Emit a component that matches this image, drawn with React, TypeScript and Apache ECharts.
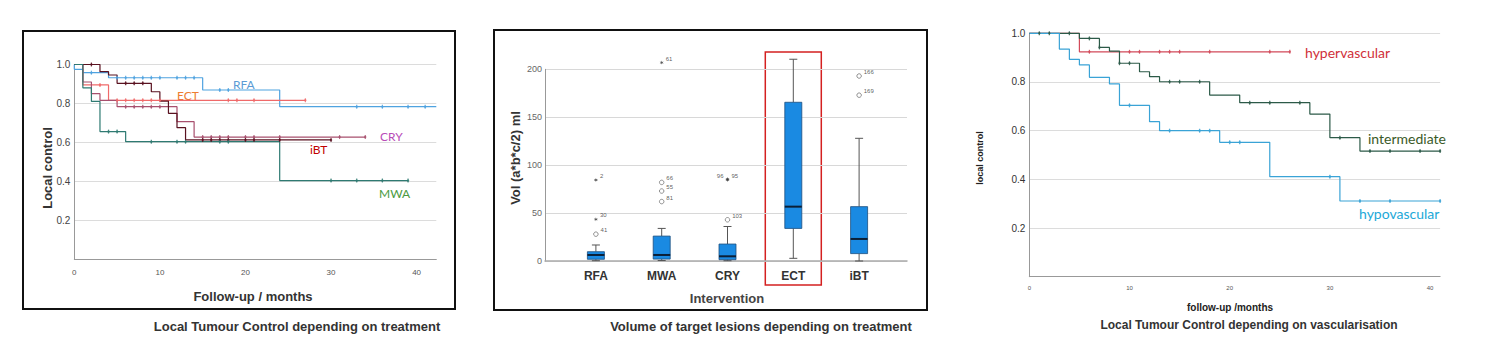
import React, { useEffect, useRef } from 'react';
import * as echarts from 'echarts';

// ---------- Panel 1: Local tumour control by treatment (Kaplan-Meier) ----------
const rfaSteps = [[0, 1], [0, 0.975], [1, 0.958], [4, 0.932], [15, 0.869], [24, 0.783], [42.3, 0.783]];
const rfaCensor = [2, 5, 6, 7, 8, 9, 10, 12, 13, 14, 17, 18, 33, 36, 39, 41];
const ectSteps = [[0, 1], [1, 0.895], [4, 0.816], [27, 0.816]];
const ectCensor = [3, 5, 6, 7, 8, 9, 10, 18, 19, 21, 27];
const crySteps = [[0, 1], [1, 0.91], [2, 0.85], [3, 0.816], [5, 0.783], [12, 0.706], [14, 0.627], [34, 0.627]];
const cryCensor = [6, 7, 8, 9, 10, 15, 16, 17, 18, 20, 21, 24, 31, 34];
const ibtSteps = [[0, 1], [3, 0.963], [4, 0.946], [5, 0.903], [9, 0.86], [10, 0.812], [11, 0.749], [12, 0.675], [13, 0.612], [30, 0.612]];
const ibtCensor = [2, 6, 7, 8, 15, 16, 17, 18, 20, 21, 24, 30];
const mwaSteps = [[0, 1], [1, 0.88], [2, 0.81], [3, 0.655], [6, 0.603], [24, 0.403], [39, 0.403]];
const mwaCensor = [4, 5, 9, 12, 13, 17, 18, 30, 33, 36, 39];

// ---------- Panel 2: Volume boxplots ----------
const boxCats = ['RFA', 'MWA', 'CRY', 'ECT', 'iBT'];
const boxLow = [0.3, 0.5, 0.3, 2.8, 0];
const boxQ1 = [1.8, 2, 1.4, 34, 7.7];
const boxMed = [6.3, 6.3, 4.9, 56.7, 23];
const boxQ3 = [9.7, 26, 17.7, 165.6, 56.7];
const boxHigh = [16.7, 34, 36, 210.5, 128];
const outCat = ['RFA', 'RFA', 'RFA', 'MWA', 'MWA', 'MWA', 'MWA', 'CRY', 'CRY', 'CRY', 'iBT', 'iBT'];
const outVal = [84.5, 43.5, 28, 207, 82, 73, 62, 85.5, 84.5, 43, 193, 173];
const outId = ['2', '30', '41', '61', '66', '55', '81', '96', '95', '103', '166', '169'];
const outKind = ['*', '*', 'o', '*', 'o', 'o', 'o', '*', '*', 'o', 'o', 'o'];

// ---------- Panel 3: Local tumour control by vascularisation ----------
const hyperSteps = [[0, 1], [5, 0.924], [26, 0.924]];
const hyperCensor = [6, 10, 11, 13, 14, 15, 18, 24, 26];
const interSteps = [[0, 1], [5, 0.979], [7, 0.942], [8, 0.927], [9, 0.877], [11, 0.842], [12, 0.822], [13, 0.801], [18, 0.746], [21, 0.715], [28, 0.668], [30, 0.571], [33, 0.516], [41, 0.516]];
const interCensor = [1, 2, 4, 6, 7, 9, 10, 14, 15, 17, 22, 24, 27, 31, 34, 36, 39, 41];
const hypoSteps = [[0, 1], [3, 0.935], [4, 0.893], [5, 0.87], [6, 0.819], [8, 0.792], [9, 0.704], [12, 0.637], [13, 0.6], [19, 0.552], [24, 0.411], [31, 0.311], [41, 0.311]];
const hypoCensor = [10, 14, 17, 18, 20, 21, 30, 33, 36, 41];

const SANS = '"Liberation Sans", Arial, sans-serif';
const LATO = 'Lato, "Open Sans", sans-serif';
const STAR = 'path://M0,-5L1,-1.7L4.3,-2.5L2,0L4.3,2.5L1,1.7L0,5L-1,1.7L-4.3,2.5L-2,0L-4.3,-2.5L-1,-1.7Z';

function valueAt(steps: number[][], t: number) {
  let v = steps[0][1];
  for (const s of steps) if (s[0] <= t) v = s[1];
  return v;
}

function km(name: string, steps: number[][], censor: number[], color: string, xi: number, w = 1.2) {
  return [
    {
      name, type: 'line', xAxisIndex: xi, yAxisIndex: xi, step: 'end', data: steps,
      symbol: 'none', clip: false, lineStyle: { color, width: w }, z: 3,
    },
    {
      name: name + '-c', type: 'scatter', xAxisIndex: xi, yAxisIndex: xi, clip: false,
      data: censor.map((t) => [t, valueAt(steps, t)]),
      symbol: 'rect', symbolSize: [1.2, 4], itemStyle: { color }, z: 4,
    },
    {
      name: name + '-d', type: 'scatter', xAxisIndex: xi, yAxisIndex: xi, clip: false,
      data: censor.map((t) => [t, valueAt(steps, t)]),
      symbol: 'circle', symbolSize: 2.4, itemStyle: { color }, z: 4,
    },
  ];
}

export default function App() {
  const ref = useRef<HTMLDivElement>(null);
  useEffect(() => {
    if (!ref.current) return;
    const chart = echarts.init(ref.current, null, { renderer: 'svg' });

    const graphics: any[] = [
      // frames
      { id: 'b1', type: 'rect', shape: { x: 23, y: 31, width: 432, height: 278 }, style: { fill: 'none', stroke: '#111', lineWidth: 2 } },
      { id: 'b2', type: 'rect', shape: { x: 494, y: 30, width: 433, height: 280 }, style: { fill: 'none', stroke: '#111', lineWidth: 2 } },
      // panel 1 texts
      { id: 't1y', type: 'text', x: 47, y: 168, rotation: Math.PI / 2, style: { text: 'Local control', font: `bold 13px ${SANS}`, fill: '#333', align: 'center', verticalAlign: 'middle' } },
      { id: 't1x', type: 'text', x: 253, y: 296, style: { text: 'Follow-up / months', font: `bold 13px ${SANS}`, fill: '#333', align: 'center', verticalAlign: 'middle' } },
      { id: 'c1', type: 'text', x: 297, y: 326, style: { text: 'Local Tumour Control depending on treatment', font: `bold 13px ${SANS}`, fill: '#333', align: 'center', verticalAlign: 'middle' } },
      { id: 'l1a', type: 'text', x: 233, y: 84, style: { text: 'RFA', font: `12px ${LATO}`, fill: '#5b9bd5', align: 'left', verticalAlign: 'middle' } },
      { id: 'l1b', type: 'text', x: 177, y: 95, style: { text: 'ECT', font: `12px ${LATO}`, fill: '#ed7d31', align: 'left', verticalAlign: 'middle' } },
      { id: 'l1c', type: 'text', x: 380, y: 136, style: { text: 'CRY', font: `12px ${LATO}`, fill: '#b84cb8', align: 'left', verticalAlign: 'middle' } },
      { id: 'l1d', type: 'text', x: 310, y: 149, style: { text: 'iBT', font: `12px ${LATO}`, fill: '#c00000', align: 'left', verticalAlign: 'middle' } },
      { id: 'l1e', type: 'text', x: 379, y: 193, style: { text: 'MWA', font: `12px ${LATO}`, fill: '#4a9a40', align: 'left', verticalAlign: 'middle' } },
      // panel 2 texts
      { id: 't2y', type: 'text', x: 515, y: 158, rotation: Math.PI / 2, style: { text: 'Vol (a*b*c/2) ml', font: `bold 13px ${SANS}`, fill: '#333', align: 'center', verticalAlign: 'middle' } },
      { id: 't2x', type: 'text', x: 727, y: 298, style: { text: 'Intervention', font: `bold 13px ${SANS}`, fill: '#444', align: 'center', verticalAlign: 'middle' } },
      { id: 'c2', type: 'text', x: 761, y: 326, style: { text: 'Volume of target lesions depending on treatment', font: `bold 13px ${SANS}`, fill: '#333', align: 'center', verticalAlign: 'middle' } },
      // panel 3 texts
      { id: 't3y', type: 'text', x: 980, y: 158, rotation: Math.PI / 2, style: { text: 'local control', font: `bold 9px ${SANS}`, fill: '#222', align: 'center', verticalAlign: 'middle' } },
      { id: 't3x', type: 'text', x: 1230, y: 307, style: { text: 'follow-up /months', font: `bold 10px ${SANS}`, fill: '#222', align: 'center', verticalAlign: 'middle' } },
      { id: 'c3', type: 'text', x: 1249, y: 325, style: { text: 'Local Tumour Control depending on vascularisation', font: `bold 12px ${SANS}`, fill: '#333', align: 'center', verticalAlign: 'middle' } },
      { id: 'l3a', type: 'text', x: 1305, y: 52, style: { text: 'hypervascular', font: `14px ${LATO}`, fill: '#d0303a', align: 'left', verticalAlign: 'middle' } },
      { id: 'l3b', type: 'text', x: 1368, y: 138, style: { text: 'intermediate', font: `14px ${LATO}`, fill: '#3a5a28', align: 'left', verticalAlign: 'middle' } },
      { id: 'l3c', type: 'text', x: 1359, y: 213, style: { text: 'hypovascular', font: `14px ${LATO}`, fill: '#22a8d8', align: 'left', verticalAlign: 'middle' } },
    ];

    const kmAxisX = (gi: number, max: number, fs: number, margin: number) => ({
      type: 'value', gridIndex: gi, min: 0, max, interval: 10,
      axisLine: { show: true, lineStyle: { color: '#999', width: 1 } },
      axisTick: { show: false },
      splitLine: { show: false },
      axisLabel: { fontSize: fs, color: '#555', margin, fontFamily: SANS, formatter: (v: number) => (v % 10 === 0 ? String(v) : '') },
    });

    const option: any = {
      animation: false,
      backgroundColor: '#fff',
      grid: [
        { left: 74.3, top: 64.5, width: 362, height: 194.5 },
        { left: 545, top: 69.3, width: 362, height: 191.7 },
        { left: 563, top: 69.3, width: 329, height: 191.7 },
        { left: 1029.3, top: 33.3, width: 410.8, height: 243.4 },
      ],
      xAxis: [
        kmAxisX(0, 42.3, 8, 9),
        { type: 'value', gridIndex: 1, min: 0, max: 1, axisLine: { show: true, lineStyle: { color: '#aaa', width: 1.5 } }, axisTick: { show: false }, axisLabel: { show: false }, splitLine: { show: false } },
        { type: 'category', gridIndex: 2, data: boxCats, boundaryGap: true, axisLine: { show: false }, axisTick: { show: false }, splitLine: { show: false }, axisLabel: { fontSize: 12, fontWeight: 'bold', color: '#333', margin: 9, fontFamily: SANS } },
        kmAxisX(3, 41, 6, 8),
      ],
      yAxis: [
        {
          type: 'value', gridIndex: 0, min: 0, max: 1, interval: 0.2,
          axisLine: { show: true, lineStyle: { color: '#999' } }, axisTick: { show: false },
          splitLine: { lineStyle: { color: '#dcdcdc' } },
          axisLabel: { fontSize: 10, color: '#444', margin: 4, fontFamily: SANS, padding: [8, 0, 0, 0], formatter: (v: number) => (v === 0 ? '' : v.toFixed(1)) },
        },
        {
          type: 'value', gridIndex: 1, min: 0, max: 200, interval: 50,
          axisLine: { show: true, lineStyle: { color: '#999' } }, axisTick: { show: false },
          splitLine: { lineStyle: { color: '#d8d8d8' } },
          axisLabel: { fontSize: 9, color: '#666', margin: 3, fontFamily: SANS },
        },
        { type: 'value', gridIndex: 2, min: 0, max: 200, show: false },
        {
          type: 'value', gridIndex: 3, min: 0, max: 1, interval: 0.2,
          axisLine: { show: true, lineStyle: { color: '#999' } }, axisTick: { show: false },
          splitLine: { lineStyle: { color: '#dcdcdc' } },
          axisLabel: { fontSize: 10, color: '#333', margin: 4, fontFamily: SANS, padding: [3, 0, 0, 0], formatter: (v: number) => (v === 0 ? '' : v.toFixed(1)) },
        },
      ],
      series: [
        ...km('RFA', rfaSteps, rfaCensor, '#4fa3e0', 0),
        ...km('ECT', ectSteps, ectCensor, '#f06a6a', 0),
        ...km('CRY', crySteps, cryCensor, '#a8506e', 0),
        ...km('iBT', ibtSteps, ibtCensor, '#5a1220', 0),
        ...km('MWA', mwaSteps, mwaCensor, '#2f7a72', 0),
        {
          name: 'box', type: 'custom', xAxisIndex: 2, yAxisIndex: 2, clip: false,
          data: boxCats.map((c, i) => [i, boxLow[i], boxQ1[i], boxMed[i], boxQ3[i], boxHigh[i]]),
          encode: { x: 0, y: [1, 2, 3, 4, 5] },
          renderItem: (params: any, api: any) => {
            const i = api.value(0);
            const pLo = api.coord([i, api.value(1)]);
            const pQ1 = api.coord([i, api.value(2)]);
            const pMed = api.coord([i, api.value(3)]);
            const pQ3 = api.coord([i, api.value(4)]);
            const pHi = api.coord([i, api.value(5)]);
            const bw = 17, cap = 8, x = pMed[0];
            const ws = { stroke: '#555', lineWidth: 1 };
            return {
              type: 'group',
              children: [
                { type: 'line', shape: { x1: x, y1: pHi[1], x2: x, y2: pQ3[1] }, style: ws },
                { type: 'line', shape: { x1: x - cap / 2, y1: pHi[1], x2: x + cap / 2, y2: pHi[1] }, style: ws },
                { type: 'line', shape: { x1: x, y1: pQ1[1], x2: x, y2: pLo[1] }, style: ws },
                { type: 'line', shape: { x1: x - cap / 2, y1: pLo[1], x2: x + cap / 2, y2: pLo[1] }, style: ws },
                { type: 'rect', shape: { x: x - bw / 2, y: pQ3[1], width: bw, height: pQ1[1] - pQ3[1] }, style: { fill: '#1a8ae2', stroke: '#1d4e7e', lineWidth: 0.8 } },
                { type: 'line', shape: { x1: x - bw / 2, y1: pMed[1], x2: x + bw / 2, y2: pMed[1] }, style: { stroke: '#0b1f36', lineWidth: 2 } },
              ],
            };
          },
          z: 3,
        },
        {
          name: 'outliers', type: 'scatter', xAxisIndex: 2, yAxisIndex: 2, clip: false,
          data: outCat.map((c, i) => ({
            value: [c, outVal[i]],
            symbol: outKind[i] === 'o' ? 'circle' : STAR,
            symbolSize: outKind[i] === 'o' ? 4.5 : 4,
            itemStyle: outKind[i] === 'o'
              ? { color: '#fff', borderColor: '#555', borderWidth: 0.8 }
              : { color: '#333', borderWidth: 0 },
            label: {
              show: true, formatter: outId[i], color: '#333', fontSize: 6, fontFamily: SANS,
              position: outId[i] === '96' ? 'left' : 'right',
              offset: outId[i] === '96' ? [0, -3] : [0, -4], distance: 2,
            },
          })),
          z: 4,
        },
        ...km('hyper', hyperSteps, hyperCensor, '#d24a5a', 3),
        ...km('inter', interSteps, interCensor, '#2c5a48', 3),
        ...km('hypo', hypoSteps, hypoCensor, '#3aa3d6', 3),
      ],
      graphic: graphics,
    };

    chart.setOption(option);
    const cx = chart.convertToPixel({ xAxisIndex: 2 }, 'ECT') as number;
    chart.setOption({
      graphic: [
        ...graphics,
        { id: 'ectbox', type: 'rect', shape: { x: cx - 28, y: 52, width: 56, height: 233 }, style: { fill: 'none', stroke: '#d42020', lineWidth: 1.5 } },
      ],
    });
    return () => chart.dispose();
  }, []);

  return <div ref={ref} style={{ position: 'absolute', left: 0, top: 0, width: 1486, height: 360, background: '#fff' }} />;
}
